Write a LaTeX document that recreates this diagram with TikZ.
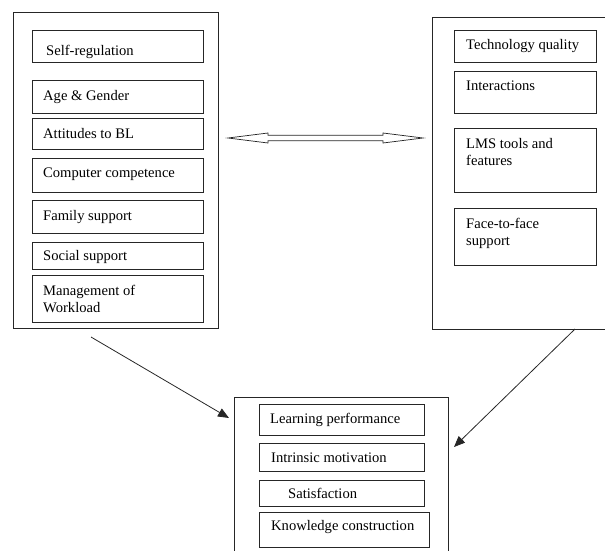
\documentclass[tikz,border=0pt]{standalone}
\usepackage{fontspec}
\setmainfont{Liberation Serif}
\usetikzlibrary{arrows.meta}
\tikzset{
  box/.style={draw=black!85, line width=0.8pt, inner sep=0pt, outer sep=0pt, anchor=north west},
  txt/.style={inner sep=0pt, anchor=base west, align=left, font=\fontsize{14.6}{17}\selectfont},
  conn/.style={draw=black!85, line width=0.8pt, -{Triangle[length=11pt,width=9pt]}}
}
\begin{document}
\begin{tikzpicture}[x=1pt,y=-1pt]
\useasboundingbox (0,0) rectangle (605,550);
% big frames
\node[box, minimum width=205, minimum height=316] (left) at (13,12) {};
\node[box, minimum width=180, minimum height=312] (right) at (432,17) {};
\node[box, minimum width=214, minimum height=160] (bottom) at (234,397) {};
% left column
\node[box, minimum width=171, minimum height=32] (selfreg) at (32,30) {};
\node[box, minimum width=171, minimum height=33] (age) at (32,80) {};
\node[box, minimum width=171, minimum height=31] (att) at (32,118) {};
\node[box, minimum width=171, minimum height=34] (comp) at (32,158) {};
\node[box, minimum width=171, minimum height=33] (fam) at (32,200) {};
\node[box, minimum width=171, minimum height=27] (soc) at (32,242) {};
\node[box, minimum width=171, minimum height=47] (man) at (32,275) {};
\node[txt] (selfregT) at (46,55) {Self-regulation};
\node[txt] (ageT) at (43,100) {Age \& Gender};
\node[txt] (attT) at (43,138) {Attitudes to BL};
\node[txt] (compT) at (43,177) {Computer competence};
\node[txt] (famT) at (43,220) {Family support};
\node[txt] (socT) at (43,260) {Social support};
\node[txt] (manT) at (43,312) {Management of\\Workload};
% right column
\node[box, minimum width=142, minimum height=32] (tech) at (454,30) {};
\node[box, minimum width=142, minimum height=42] (inter) at (454,71) {};
\node[box, minimum width=142, minimum height=64] (lms) at (454,128) {};
\node[box, minimum width=142, minimum height=57] (f2f) at (454,208) {};
\node[txt] (techT) at (466,49) {Technology quality};
\node[txt] (interT) at (466,90) {Interactions};
\node[txt] (lmsT) at (466,165) {LMS tools and\\features};
\node[txt] (f2fT) at (466,245) {Face-to-face\\support};
% bottom column
\node[box, minimum width=165, minimum height=31] (lp) at (259,404) {};
\node[box, minimum width=165, minimum height=28] (im) at (259,443) {};
\node[box, minimum width=165, minimum height=26] (sat) at (259,480) {};
\node[box, minimum width=170, minimum height=35] (kc) at (259,512) {};
\node[txt] (lpT) at (270,423) {Learning performance};
\node[txt] (imT) at (271,462) {Intrinsic motivation};
\node[txt] (satT) at (288,498) {Satisfaction};
\node[txt] (kcT) at (271,530) {Knowledge construction};
% hollow double arrow
\draw[draw=black!85, line width=0.7pt, line join=miter]
  (228,138) -- (268,133) -- (268,135.3) -- (383,135.3) -- (383,133) -- (423,138)
  -- (383,143) -- (383,140.7) -- (268,140.7) -- (268,143) -- cycle;
% connectors
\coordinate (a1s) at (91,337);
\coordinate (a1e) at (229,418);
\coordinate (a2s) at (575,329);
\coordinate (a2e) at (454,447);
\draw[conn] (a1s) -- (a1e);
\draw[conn] (a2s) -- (a2e);
\end{tikzpicture}
\end{document}
